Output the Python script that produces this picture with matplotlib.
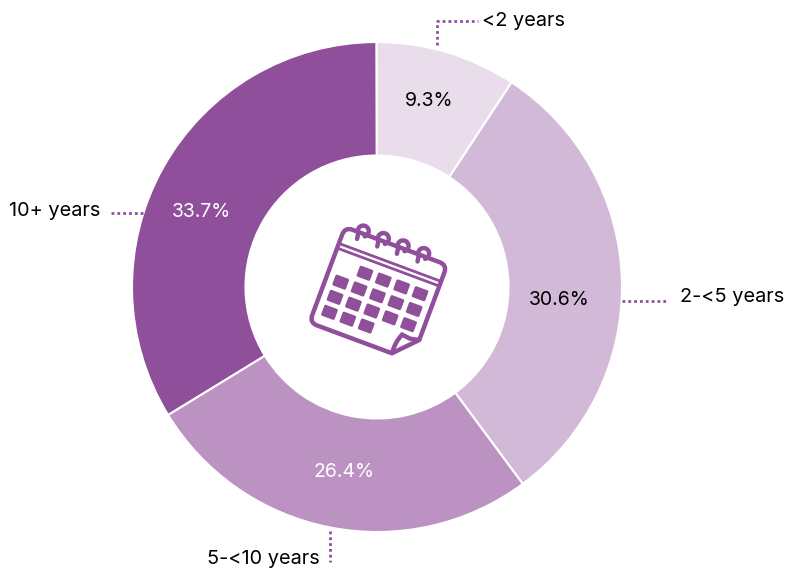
import numpy as np
import matplotlib
matplotlib.use("Agg")
import matplotlib.pyplot as plt
from matplotlib.patches import PathPatch, FancyBboxPatch
from matplotlib.path import Path
from matplotlib.transforms import Affine2D

plt.rcParams["font.family"] = ["Inter", "DejaVu Sans"]

categories = ["<2 years", "2-<5 years", "5-<10 years", "10+ years"]
shares = [9.3, 30.6, 26.4, 33.7]
colors = ["#E9DDEC", "#D2B9D8", "#BB92C2", "#8F4F9A"]
pct_colors = ["black", "black", "white", "white"]

W, H = 787, 568
ACCENT = "#8F4F9A"


def py(y):
    # reference pixel rows count from the top
    return H - y


fig = plt.figure(figsize=(W / 100, H / 100), dpi=100)
ax = fig.add_axes([0, 0, 1, 1])

ax.pie(shares, colors=colors, startangle=90.15, counterclock=False,
       center=(377, py(287)), radius=245,
       wedgeprops=dict(width=113.5, edgecolor="white", linewidth=1.5))
ax.set_xlim(0, W)
ax.set_ylim(0, H)
ax.set_aspect("equal")
ax.axis("off")

# percent labels
pct_pos = [(429, 101.5), (559, 300), (344, 472), (201, 212)]
for val, col, (x, y) in zip(shares, pct_colors, pct_pos):
    ax.text(x, py(y), f"{val}%", color=col, fontsize=14, ha="center", va="center")

# leaders and category labels
leaders = [
    [(437, 45), (437, 21), (478, 21)],
    [(622, 301), (666, 301)],
    [(330, 531), (330, 562)],
    [(143, 213), (111, 213)],
]
label_pos = [(482, 21, "left"), (680, 297.5, "left"), (320, 559, "right"), (100, 211.5, "right")]
for pts, name, (x, y, ha) in zip(leaders, categories, label_pos):
    xs, ys = zip(*pts)
    ax.plot(xs, [py(v) for v in ys], color=ACCENT, lw=2.0, ls=(0, (1, 1.1)))
    ax.text(x, py(y), name, color="black", fontsize=14.35, ha=ha, va="center")

# calendar icon, drawn in its own unrotated frame (u right, v down)
icon = (Affine2D().scale(1, -1).rotate_deg(-20.4).translate(345, py(227))
        + ax.transData)
LW = 3.2

body = [
    (Path.MOVETO, (0, 8)), (Path.CURVE3, (0, 0)), (Path.CURVE3, (8, 0)),
    (Path.LINETO, (101, 0)), (Path.CURVE3, (109, 0)), (Path.CURVE3, (109, 8)),
    (Path.LINETO, (109, 80)), (Path.LINETO, (88, 102)),
    (Path.LINETO, (8, 102)), (Path.CURVE3, (0, 102)), (Path.CURVE3, (0, 94)),
    (Path.CLOSEPOLY, (0, 8)),
]
codes, verts = zip(*body)
ax.add_patch(PathPatch(Path(verts, codes), fc="white", ec=ACCENT, lw=LW,
                       transform=icon, joinstyle="round"))

# page curl
flap = Path([(88, 102), (87, 90), (91, 81), (100, 82), (109, 80)],
            [Path.MOVETO, Path.CURVE3, Path.CURVE3, Path.LINETO, Path.LINETO])
ax.add_patch(PathPatch(flap, fc="none", ec=ACCENT, lw=LW, transform=icon))

for v in (17.5, 22.5):
    ax.plot([0, 109], [v, v], color=ACCENT, lw=2.0, transform=icon)

# binding rings
t = np.linspace(-0.3 * np.pi, 1.2 * np.pi, 40)
for u0 in (18.5, 40, 61, 83):
    ax.plot(u0 + 5.5 * np.cos(t), -2.5 - 5.5 * np.sin(t), color=ACCENT, lw=LW,
            solid_capstyle="round", transform=icon)
    ax.plot([u0 - 5.5 * np.cos(0.2 * np.pi) + 0.5, u0 - 3], [1, 7], color=ACCENT, lw=LW,
            solid_capstyle="round", transform=icon)

# day cells
rows = [(36.4, [1, 2, 3, 4]), (53.2, [0, 1, 2, 3, 4]),
        (69.4, [0, 1, 2, 3, 4]), (85.4, [0, 1, 2])]
for v, cols in rows:
    for c in cols:
        u = 15.2 + 19.6 * c
        ax.add_patch(FancyBboxPatch((u - 7.2, v - 5.8), 14.4, 11.6,
                                    boxstyle="round,pad=0,rounding_size=1.5",
                                    fc=ACCENT, ec="none", transform=icon))

fig.savefig("out.png", dpi=100)
